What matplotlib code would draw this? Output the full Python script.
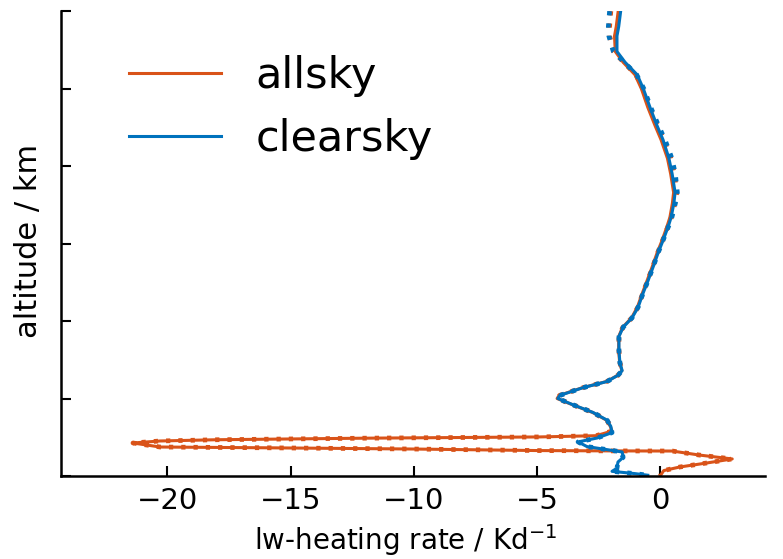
import numpy as np
import matplotlib
matplotlib.use("Agg")
import matplotlib.pyplot as plt

ORANGE = "#D95319"
BLUE = "#0072BD"

# clearsky, solid (heating rate K/d, altitude km)
clear_hr = [-1.60, -1.68, -1.75, -1.75, -1.42, -0.93, -0.68, -0.41, -0.12, 0.12, 0.36, 0.49,
            0.61, 0.56, 0.45, 0.33, 0.12, -0.08, -0.28, -0.49, -0.69, -0.89, -1.14, -1.50,
            -1.67, -1.67, -1.63, -1.54, -1.71, -2.15, -3.13, -4.07, -4.15, -3.54, -2.72,
            -2.15, -2.00, -1.95, -2.56, -3.33, -2.97, -2.15, -1.54, -1.50, -1.71, -1.75,
            -1.95, -1.00, -0.50]
clear_alt = [30.0, 29.0, 28.4, 27.4, 26.7, 25.9, 25.0, 23.8, 22.6, 21.7, 20.5, 19.5,
             18.3, 17.6, 16.7, 16.1, 15.2, 14.4, 13.5, 12.6, 11.8, 10.9, 10.2, 9.6,
             9.0, 8.1, 7.3, 6.8, 6.5, 6.1, 5.7, 5.2, 5.0, 4.6, 4.1,
             3.6, 3.2, 2.8, 2.45, 2.2, 1.9, 1.7, 1.55, 1.2, 0.9, 0.5,
             0.3, 0.15, 0.05]

# clearsky, dotted
clear2_hr = [-2.05, -2.10, -2.08, -1.90, -1.45, -0.95, -0.66, -0.38, -0.06, 0.20, 0.48, 0.62,
             0.70, 0.62, 0.48, 0.34, 0.12, -0.08, -0.28, -0.49, -0.69, -0.89, -1.14, -1.50,
             -1.67, -1.67, -1.63, -1.54, -1.71, -2.15, -3.13, -4.07, -4.15, -3.54, -2.72,
             -2.15, -2.00, -1.95, -2.56, -3.33, -2.97, -2.15, -1.54, -1.50, -1.71, -1.75,
             -1.95, -1.00, -0.50]
clear2_alt = clear_alt

# allsky, solid
all_hr = [-1.70, -1.78, -1.85, -1.82, -1.50, -1.02, -0.76, -0.50, -0.20, 0.04, 0.30, 0.43,
          0.55, 0.50, 0.40, 0.28, 0.08, -0.12, -0.32, -0.53, -0.72, -0.92, -1.16, -1.52,
          -1.68, -1.68, -1.64, -1.55, -1.72, -2.17, -3.15, -4.10, -4.18, -3.56, -2.74,
          -2.17, -2.02, -1.95, -2.60, -4.90, -12.0, -18.0, -20.3, -21.4, -20.3, -16.0,
          -10.0, -4.90, -2.0, 0.50, 1.60, 2.93, 1.90, 0.80, 0.15, 0.0]
all_alt = [30.0, 29.0, 28.4, 27.4, 26.7, 25.9, 25.0, 23.8, 22.6, 21.7, 20.5, 19.5,
           18.3, 17.6, 16.7, 16.1, 15.2, 14.4, 13.5, 12.6, 11.8, 10.9, 10.2, 9.6,
           9.0, 8.1, 7.3, 6.8, 6.5, 6.1, 5.7, 5.2, 5.0, 4.6, 4.1,
           3.6, 3.2, 2.9, 2.6, 2.52, 2.44, 2.34, 2.26, 2.13, 1.87, 1.82,
           1.74, 1.64, 1.62, 1.61, 1.35, 1.10, 0.84, 0.58, 0.35, 0.0]

# allsky, dotted
all2_hr = [-2.00, -2.05, -2.05, -1.88, -1.48, -0.98, -0.70, -0.42, -0.10, 0.16, 0.44, 0.58,
           0.68, 0.60, 0.46, 0.32, 0.10, -0.10, -0.30, -0.51, -0.70, -0.90, -1.15, -1.51,
           -1.67, -1.67, -1.63, -1.54, -1.71, -2.16, -3.14, -4.08, -4.16, -3.55, -2.73,
           -2.16, -2.01, -1.95, -2.60, -4.90, -12.0, -18.0, -20.3, -21.4, -20.3, -16.0,
           -10.0, -4.90, -2.0, 0.50, 1.60, 2.93, 1.90, 0.80, 0.15, 0.0]
all2_alt = all_alt

fig, ax = plt.subplots(figsize=(7.83, 5.59), dpi=100)
fig.subplots_adjust(left=0.078, right=0.977, bottom=0.1485, top=0.980)

dots = (0, (0.9, 1.7))
l1, = ax.plot(all_hr, all_alt, color=ORANGE, lw=2.2, label="allsky")
ax.plot(all2_hr, all2_alt, color=ORANGE, lw=3.4, ls=dots)
l2, = ax.plot(clear_hr, clear_alt, color=BLUE, lw=2.2, label="clearsky")
ax.plot(clear2_hr, clear2_alt, color=BLUE, lw=3.4, ls=dots)

ax.set_xlim(-24.32, 4.26)
ax.set_ylim(0, 30)
ax.set_xticks([-20, -15, -10, -5, 0])
ax.set_yticks(np.arange(0, 31, 5))
ax.set_yticklabels([])
ax.tick_params(direction="in", length=7, width=1.5, labelsize=21, pad=8)
for s in ["top", "right"]:
    ax.spines[s].set_visible(False)
for s in ["left", "bottom"]:
    ax.spines[s].set_linewidth(1.8)

ax.set_xlabel("lw-heating rate / Kd$^{-1}$", fontsize=20)
ax.set_ylabel("altitude / km", fontsize=22)
ax.xaxis.set_label_coords(0.489, -0.1)
ax.yaxis.set_label_coords(-0.026, 0.505)

ax.legend(handles=[l1, l2], loc="upper left", bbox_to_anchor=(0.041, 0.99),
          frameon=False, fontsize=31, handlelength=2.14, handletextpad=0.8,
          labelspacing=0.5)

fig.savefig("out.png", dpi=100)
